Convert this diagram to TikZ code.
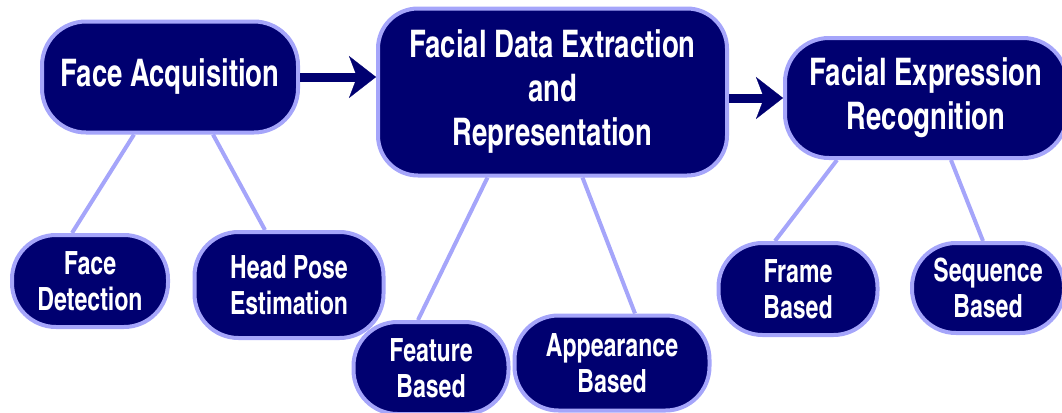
\documentclass[tikz,border=0pt]{standalone}
\usepackage{fontspec}
\usetikzlibrary{arrows.meta,positioning,calc}
\newfontfamily\facefont{texgyreheroscn}[Extension=.otf,UprightFont=*-bold,FakeStretch=0.88]
\definecolor{boxnavy}{RGB}{0,0,112}
\definecolor{rimblue}{RGB}{165,165,250}

\begin{document}
\begin{tikzpicture}[x=0.5pt,y=-0.5pt,
   stage/.style={draw=rimblue,line width=2pt,fill=boxnavy,text=white,align=center,
                 font=\facefont\fontsize{19}{22}\selectfont,inner sep=2pt},
   leaf/.style={draw=rimblue,line width=2pt,fill=boxnavy,text=white,align=center,
                font=\facefont\fontsize{16}{18}\selectfont,inner sep=2pt,rounded corners=22pt},
   link/.style={rimblue,line width=2pt},
   flow/.style={boxnavy,line width=4.5pt,
                -{Stealth[length=13.5pt,width=21pt,inset=4pt,line width=0.1pt]}}]
  \useasboundingbox (0,0) rectangle (1062,413);

  % main pipeline
  \node[stage,rounded corners=22pt,minimum width=128pt,minimum height=55.5pt] (acq) at (170,77)
       {Face Acquisition};
  \node[stage,rounded corners=20pt,minimum width=174.5pt,minimum height=83.5pt,
        right=38pt of acq,yshift=-7.5pt] (extr)
       {Facial Data Extraction\\and\\Representation};
  \node[stage,rounded corners=22pt,minimum width=141pt,minimum height=60pt,
        right=27pt of extr,yshift=-3pt] (recog)
       {Facial Expression\\Recognition};
  \draw[flow] (acq.east) -- (acq.east -| extr.west);
  \draw[flow] (extr.east |- recog.west) -- (recog.west);

  % sub-tasks
  \node[leaf,minimum width=78pt,minimum height=46pt] (det) at (90,281) {Face\\Detection};
  \node[leaf,minimum width=94.5pt,minimum height=53pt] (pose) at (289,285) {Head Pose\\Estimation};
  \node[leaf,minimum width=77.5pt,minimum height=46pt] (feat) at (431,368) {Feature\\Based};
  \node[leaf,minimum width=97.5pt,minimum height=47.5pt] (appr) at (612,363) {Appearance\\Based};
  \node[leaf,minimum width=79.5pt,minimum height=46pt] (frame) at (798,289) {Frame\\Based};
  \node[leaf,minimum width=76pt,minimum height=45pt] (seq) at (988,288) {Sequence\\Based};

  \draw[link] ($(acq.south)+(-36,0)$) -- ($(det.north)+(-18,0)$);
  \draw[link] ($(acq.south)+(43,0)$) -- ($(pose.north)+(-24,0)$);
  \draw[link] ($(extr.south)+(-65,0)$) -- ($(feat.north)+(-13,0)$);
  \draw[link] ($(extr.south)+(30,0)$) -- ($(appr.north)+(23,0)$);
  \draw[link] ($(recog.south)+(-89,0)$) -- ($(frame.north)+(-23,0)$);
  \draw[link] ($(recog.south)+(25,0)$) -- ($(seq.north)+(-5,0)$);
\end{tikzpicture}
\end{document}
